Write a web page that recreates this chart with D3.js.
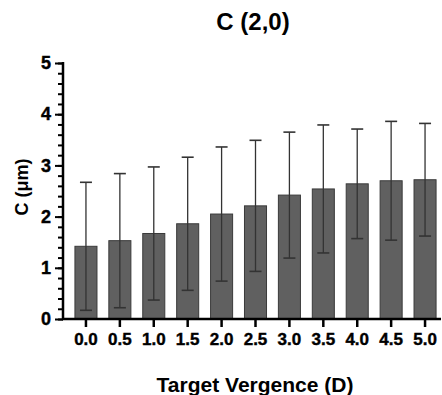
<!DOCTYPE html>
<html>
<head>
<meta charset="utf-8">
<script src="https://cdn.jsdelivr.net/npm/d3@7"></script>
<style>
  html, body { margin: 0; padding: 0; background: #fff; }
  svg text { font-family: "Liberation Sans", Arial, sans-serif; font-weight: 700; fill: #000; }
</style>
</head>
<body>
<div id="chart"></div>
<script>
const vergence = ["0.0", "0.5", "1.0", "1.5", "2.0", "2.5", "3.0", "3.5", "4.0", "4.5", "5.0"];
const meanC = [1.42, 1.53, 1.67, 1.86, 2.05, 2.21, 2.42, 2.54, 2.64, 2.70, 2.72];
const sdC = [1.25, 1.31, 1.30, 1.30, 1.31, 1.28, 1.23, 1.25, 1.07, 1.16, 1.10];
const yTicks = [0, 1, 2, 3, 4, 5];

const width = 442;
const height = 395;
const margin = { left: 63, right: 1, top: 63, bottom: 76 };

const svg = d3
  .select("#chart")
  .append("svg")
  .attr("width", width)
  .attr("height", height);

const x = d3
  .scaleBand()
  .domain(vergence)
  .range([69, 442])
  .paddingInner(0.35)
  .paddingOuter(0.175);

const y = d3
  .scaleLinear()
  .domain([0, 5])
  .range([height - margin.bottom, margin.top]);

const data = vergence.map((v, i) => ({ v, mean: meanC[i], sd: sdC[i] }));

// bars
svg
  .append("g")
  .selectAll("rect")
  .data(data)
  .join("rect")
  .attr("x", (d) => x(d.v))
  .attr("y", (d) => y(d.mean))
  .attr("width", x.bandwidth())
  .attr("height", (d) => y(0) - y(d.mean))
  .attr("fill", "#606060")
  .attr("stroke", "#3a3a3a")
  .attr("stroke-width", 1);

// error bars (mean +/- sd)
const err = svg.append("g").attr("stroke", "#333").attr("fill", "none");
const cx = (d) => x(d.v) + x.bandwidth() / 2;

err
  .selectAll("line.stem")
  .data(data)
  .join("line")
  .attr("class", "stem")
  .attr("x1", cx)
  .attr("x2", cx)
  .attr("y1", (d) => y(d.mean + d.sd))
  .attr("y2", (d) => y(d.mean - d.sd))
  .attr("stroke-width", 1.3);

["top", "bottom"].forEach((side) => {
  err
    .selectAll("line.cap-" + side)
    .data(data)
    .join("line")
    .attr("class", "cap-" + side)
    .attr("x1", (d) => cx(d) - 6)
    .attr("x2", (d) => cx(d) + 6)
    .attr("y1", (d) => y(side === "top" ? d.mean + d.sd : d.mean - d.sd))
    .attr("y2", (d) => y(side === "top" ? d.mean + d.sd : d.mean - d.sd))
    .attr("stroke-width", 1.6);
});

// y axis with minor ticks
const yMinor = svg
  .append("g")
  .attr("transform", `translate(${margin.left},0)`)
  .call(d3.axisLeft(y).tickValues(d3.range(0, 5.01, 0.2)).tickSize(5).tickFormat(""));
yMinor.select(".domain").remove();
yMinor.selectAll("line").attr("stroke", "#000").attr("stroke-width", 2);

const yAxis = svg
  .append("g")
  .attr("transform", `translate(${margin.left},0)`)
  .call(d3.axisLeft(y).tickValues(yTicks).tickSize(8).tickPadding(4).tickFormat(d3.format("d")));
yAxis.select(".domain").attr("stroke", "#000").attr("stroke-width", 2.5).attr("d", `M0,${y(0) + 1}V${y(5) - 1}`);
yAxis.selectAll("line").attr("stroke", "#000").attr("stroke-width", 2);
yAxis.selectAll("text").attr("font-size", 18).attr("font-weight", 700)
  .attr("stroke", "#000").attr("stroke-width", 0.4);

// x axis
const xAxis = svg
  .append("g")
  .attr("transform", `translate(0,${y(0)})`)
  .call(d3.axisBottom(x).tickSize(8).tickPadding(6));
xAxis.select(".domain").attr("stroke", "#000").attr("stroke-width", 2.5).attr("d", `M${margin.left - 1},0H441`);
xAxis.selectAll("line").attr("stroke", "#000").attr("stroke-width", 2.5);
xAxis.selectAll("text").attr("font-size", 17).attr("font-weight", 700)
  .attr("stroke", "#000").attr("stroke-width", 0.4);

// titles
svg
  .append("text")
  .attr("x", 253)
  .attr("y", 30)
  .attr("text-anchor", "middle")
  .attr("font-size", 24)
  .text("C (2,0)");

svg
  .append("text")
  .attr("x", 255)
  .attr("y", 392)
  .attr("text-anchor", "middle")
  .attr("font-size", 21)
  .text("Target Vergence (D)");

svg
  .append("text")
  .attr("transform", `translate(28,${(y(0) + y(5)) / 2 - 4}) rotate(-90)`)
  .attr("text-anchor", "middle")
  .attr("font-size", 18)
  .text("C (μm)");
</script>
</body>
</html>
